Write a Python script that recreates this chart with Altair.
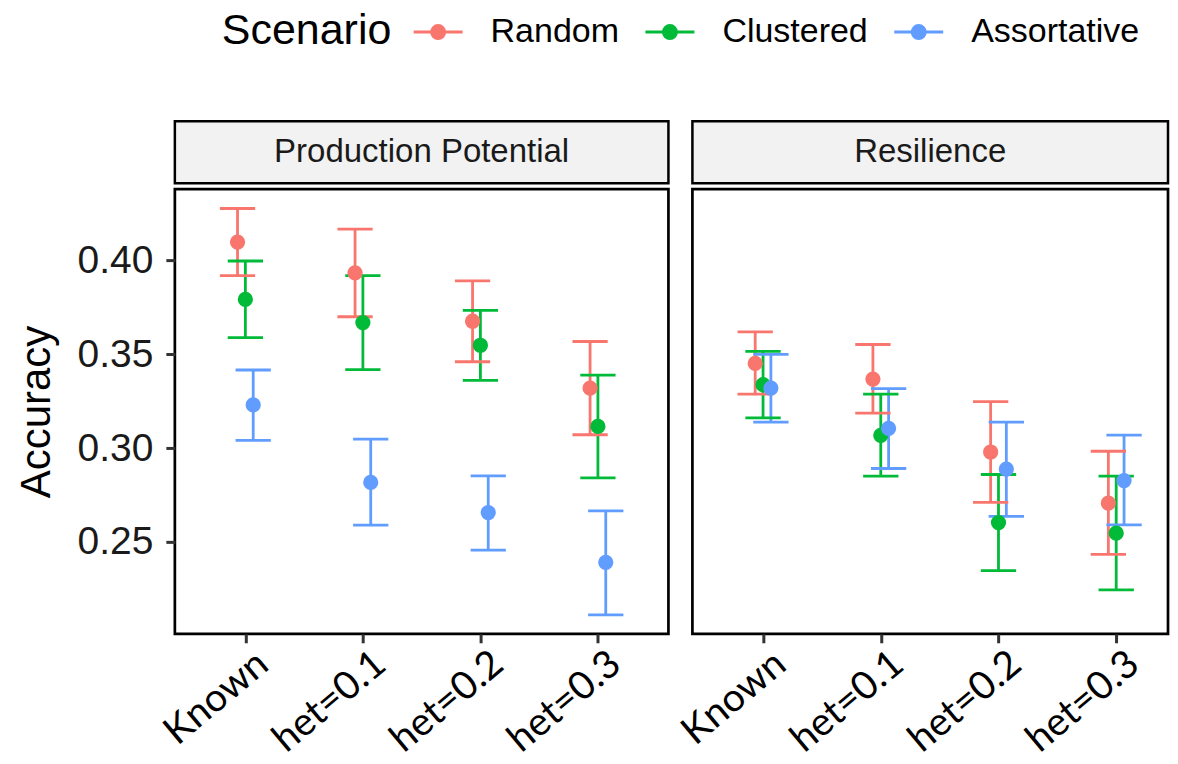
import json
import altair as alt
import pandas as pd

# ---------------- data ----------------
CATEGORIES = ["Known", "het=0.1", "het=0.2", "het=0.3"]
SCENARIOS = ["Random", "Clustered", "Assortative"]
COLORS = ["#F8766D", "#00BA38", "#619CFF"]
TRAITS = ["Production Potential", "Resilience"]

# Production Potential
pp_random_mean = [0.4098, 0.3934, 0.3676, 0.3319]
pp_random_lo = [0.3919, 0.3700, 0.3460, 0.3071]
pp_random_hi = [0.4277, 0.4167, 0.3891, 0.3568]
pp_clustered_mean = [0.3792, 0.3669, 0.3548, 0.3115]
pp_clustered_lo = [0.3589, 0.3418, 0.3361, 0.2841]
pp_clustered_hi = [0.3997, 0.3919, 0.3734, 0.3389]
pp_assort_mean = [0.3230, 0.2817, 0.2656, 0.2391]
pp_assort_lo = [0.3041, 0.2589, 0.2456, 0.2111]
pp_assort_hi = [0.3416, 0.3048, 0.2852, 0.2665]

# Resilience
rs_random_mean = [0.3451, 0.3368, 0.2979, 0.2707]
rs_random_lo = [0.3287, 0.3186, 0.2711, 0.2433]
rs_random_hi = [0.3619, 0.3552, 0.3248, 0.2983]
rs_clustered_mean = [0.3338, 0.3068, 0.2603, 0.2546]
rs_clustered_lo = [0.3161, 0.2850, 0.2347, 0.2244]
rs_clustered_hi = [0.3515, 0.3287, 0.2859, 0.2850]
rs_assort_mean = [0.3320, 0.3105, 0.2888, 0.2827]
rs_assort_lo = [0.3138, 0.2891, 0.2636, 0.2591]
rs_assort_hi = [0.3499, 0.3317, 0.3138, 0.3069]

Y_TICKS = [0.25, 0.30, 0.35, 0.40]

SERIES = {
    ("Production Potential", "Random"): (pp_random_mean, pp_random_lo, pp_random_hi),
    ("Production Potential", "Clustered"): (pp_clustered_mean, pp_clustered_lo, pp_clustered_hi),
    ("Production Potential", "Assortative"): (pp_assort_mean, pp_assort_lo, pp_assort_hi),
    ("Resilience", "Random"): (rs_random_mean, rs_random_lo, rs_random_hi),
    ("Resilience", "Clustered"): (rs_clustered_mean, rs_clustered_lo, rs_clustered_hi),
    ("Resilience", "Assortative"): (rs_assort_mean, rs_assort_lo, rs_assort_hi),
}

# ---------------- styling ----------------
DODGE = 0.2      # dodge width (category units)
CAP = 0.3        # error bar cap width (category units)
FONT = "Liberation Sans"
XFONT = "Lato"

rows = []
for (trait, scen), (m, lo, hi) in SERIES.items():
    si = SCENARIOS.index(scen)
    for ci, cat in enumerate(CATEGORIES):
        xp = ci + (si - 1) * DODGE / 3
        rows.append(dict(Trait=trait, Scenario=scen, Category=cat, x=xp,
                         xl=xp - CAP / 2, xr=xp + CAP / 2,
                         Accuracy=m[ci], lo=lo[ci], hi=hi[ci]))
df = pd.DataFrame(rows)

color_scale = alt.Scale(domain=SCENARIOS, range=COLORS)
# symbol box is 40px (r=20); the line reaches 24.5px each side, dot radius 6.5px
SYMBOL = "M-1.225,0L1.225,0M0.325,0A0.325,0.325,0,1,1,-0.325,0A0.325,0.325,0,1,1,0.325,0Z"
legend = alt.Legend(
    orient="none", legendX=47, legendY=-111, direction="horizontal",
    title="Scenario", titleOrient="left", titleFontSize=43, titleFont=FONT,
    titleFontWeight="normal", titleColor="black", titlePadding=25,
    titleBaseline="top", titleAnchor="start", titleLimit=400,
    labelFontSize=34, labelFont=FONT, labelColor="black", labelOffset=31,
    labelLimit=400,
    symbolType=SYMBOL, symbolSize=1600, symbolStrokeWidth=3,
    columnPadding=20, padding=0,
)
fill_enc = alt.Fill("Scenario:N", scale=color_scale, legend=legend, sort=SCENARIOS)
stroke_enc = alt.Stroke("Scenario:N", scale=color_scale, legend=legend, sort=SCENARIOS)

Y_DOMAIN = [0.201, 0.438]
PLOT_H = 445
STRIP_H = 62
LW = 2.8


def panel(trait, width, xmax, show_y):
    base = alt.Chart(df).transform_filter(alt.datum.Trait == trait)
    xaxis = alt.Axis(
        values=[0, 1, 2, 3], labelExpr=f"{json.dumps(CATEGORIES)}[datum.value]",
        labelAngle=-40, labelAlign="right", labelBaseline="top",
        labelFontSize=39, labelFont=XFONT, labelColor="black",
        labelOverlap=False, labelFlush=False, labelPadding=1, labelOffset=5,
        tickSize=9, tickWidth=3, tickColor="#333333",
        domain=False, grid=False, title=None,
    )
    xsc = alt.Scale(domain=[-0.6, xmax], nice=False, zero=False)
    if show_y:
        yaxis = alt.Axis(
            values=Y_TICKS, format=".2f", title="Accuracy",
            titleFontSize=42, titleFont=FONT, titleFontWeight="normal",
            titleColor="black", titlePadding=19,
            labelFontSize=39, labelFont=FONT, labelColor="#1a1a1a",
            labelPadding=13, tickSize=9, tickWidth=3, tickColor="#333333",
            domain=False, grid=False,
        )
    else:
        yaxis = None
    ysc = alt.Scale(domain=Y_DOMAIN, nice=False, zero=False)

    bars = base.mark_rule(strokeWidth=LW).encode(
        x=alt.X("x:Q", scale=xsc, axis=xaxis),
        y=alt.Y("lo:Q", scale=ysc, axis=yaxis),
        y2="hi:Q",
        stroke=stroke_enc,
    )
    cap_hi = base.mark_rule(strokeWidth=LW).encode(
        x="xl:Q", x2="xr:Q", y="hi:Q", stroke=stroke_enc)
    cap_lo = base.mark_rule(strokeWidth=LW).encode(
        x="xl:Q", x2="xr:Q", y="lo:Q", stroke=stroke_enc)
    pts = base.mark_point(filled=True, size=150, strokeWidth=3, opacity=1).encode(
        x="x:Q", y="Accuracy:Q", fill=fill_enc, stroke=stroke_enc)

    plot = alt.layer(bars, cap_hi, cap_lo, pts).properties(
        width=width, height=PLOT_H,
        view=alt.ViewBackground(fill="white", stroke="black", strokeWidth=2.7),
    )

    strip = alt.Chart(pd.DataFrame({"label": [trait]})).mark_text(
        font=FONT, fontSize=33, color="#1a1a1a", baseline="middle", align="center"
    ).encode(
        text="label:N", x=alt.value(width / 2), y=alt.value(STRIP_H / 2)
    ).properties(
        width=width, height=STRIP_H,
        view=alt.ViewBackground(fill="#F2F2F2", stroke="black", strokeWidth=2.5),
    )
    return alt.vconcat(strip, plot, spacing=2)


left = panel(TRAITS[0], 494, 3.6, True)
right = panel(TRAITS[1], 476, 3.44, False)

# the right panel's rotated "Known" label reaches into the gap,
# so the concat spacing is reduced to keep a ~24px gap between the panels
chart = alt.hconcat(left, right, spacing=3).resolve_scale(
    x="independent", y="independent", fill="shared", stroke="shared"
).properties(
    padding={"left": 5, "top": 2, "right": 0, "bottom": 0}
).configure_view(
    stroke="black", strokeWidth=2.7, fill="white"
).configure(background="white")

chart.save("out.html", embed_options={"renderer": "svg", "actions": False})
